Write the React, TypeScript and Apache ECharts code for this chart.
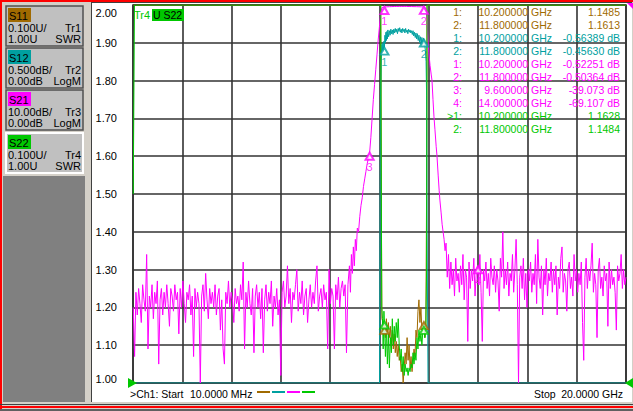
import React, { useEffect, useRef } from 'react';
import * as echarts from 'echarts';

// ---- sweep ----
const START_GHZ = 0.01;
const STOP_GHZ = 20;
const X_DIV_GHZ = 2;

// ---- trace settings (Tr1..Tr4) ----
const traceNames = ['S11', 'S12', 'S21', 'S22'];
const traceTr = ['Tr1', 'Tr2', 'Tr3', 'Tr4'];
const traceColors = ['#a06a00', '#00a0a0', '#ff00ff', '#00c800'];
const tracePerDiv = [0.1, 0.5, 10, 0.1];
const traceRef = [1.0, 0, 0, 1.0];
const traceRefPos = [0, 10, 10, 0]; // division of the reference line (0 = bottom)
const traceUnits = ['U', 'dB', 'dB', 'U'];
const traceFormats = ['SWR', 'LogM', 'LogM', 'SWR'];
const traceMarkerLabels = [false, true, true, false];
const Y_DIVS = 10;

// ---- S21 (dB) ----
const s21LeftStart = 0.01;
const s21LeftStop = 8.66;
const s21LeftNoise = [
  -80, -93, -76, -82, -75, -79, -84, -74, -78, -81,
  -66, -91, -77, -80, -74, -83, -76, -79, -73, -95,
  -78, -75, -82, -76, -80, -74, -79, -85, -75, -77,
  -81, -74, -78, -76, -87, -75, -80, -73, -79, -84,
  -76, -78, -74, -82, -77, -93, -75, -80, -76, -79,
  -100, -77, -74, -81, -71, -78, -83, -75, -79, -76,
  -80, -74, -82, -77, -75, -86, -78, -91, -95, -76,
  -79, -73, -80, -76, -78, -84, -75, -79, -77, -81,
  -74, -78, -68, -91, -76, -80, -73, -79, -82, -75,
  -92, -77, -74, -80, -76, -83, -75, -92, -78, -74,
  -81, -76, -79, -73, -85, -77, -80, -75, -82, -78,
  -98, -76, -73, -80, -77, -69, -79, -75, -84, -76,
  -78, -74, -70, -81, -76, -79, -73, -82, -77, -75,
  -84, -78, -74, -80, -76, -79, -73, -69, -81, -77,
  -75, -80, -74, -78, -76, -91, -70, -79, -75, -77,
  -91, -74, -78, -72, -80, -75, -73, -77, -74, -92,
];
const s21Band: [number, number][] = [
  [8.72, -74], [8.78, -69], [8.82, -76], [8.86, -66], [8.9, -71], [8.94, -64],
  [8.98, -69], [9.02, -62], [9.06, -65], [9.1, -59], [9.15, -60], [9.2, -56],
  [9.25, -53], [9.3, -51], [9.35, -48], [9.4, -46], [9.45, -44], [9.5, -42],
  [9.55, -40.5], [9.6, -39.07], [9.65, -35], [9.7, -30], [9.75, -25], [9.8, -21],
  [9.85, -17], [9.9, -13], [9.95, -9], [10.0, -5.5], [10.05, -2], [10.1, -0.7],
  [10.15, -0.55], [10.2, -0.52], [10.3, -0.48], [10.4, -0.45], [10.5, -0.42],
  [10.6, -0.4], [10.7, -0.38], [10.8, -0.37], [10.9, -0.38], [11.0, -0.36],
  [11.1, -0.38], [11.2, -0.4], [11.3, -0.41], [11.4, -0.43], [11.5, -0.44],
  [11.6, -0.46], [11.7, -0.48], [11.8, -0.5], [11.85, -0.6], [11.9, -1.2],
  [11.93, -4], [11.97, -9.8], [12.0, -12.5], [12.05, -16], [12.1, -18.5],
  [12.13, -20], [12.17, -25], [12.21, -29.6], [12.25, -33], [12.3, -37.5],
  [12.33, -39.7], [12.38, -45], [12.42, -49], [12.45, -51.6], [12.5, -55],
  [12.54, -58], [12.58, -60], [12.62, -62], [12.66, -65],
];
const s21RightStart = 12.7;
const s21RightStop = 20;
const s21RightNoise = [
  -63, -72, -66, -75, -68, -74, -70, -77, -67, -73,
  -71, -76, -69, -74, -66, -78, -70, -72, -89, -68,
  -75, -70, -73, -67, -77, -71, -69, -74, -66, -76,
  -89, -70, -73, -68, -75, -71, -77, -67, -72, -74,
  -69, -76, -70, -73, -81, -67, -72, -60, -75, -70,
  -74, -68, -77, -71, -73, -66, -76, -70, -62, -74,
  -100, -72, -69, -75, -67, -78, -71, -80, -70, -73,
  -68, -76, -71, -74, -66, -79, -62, -72, -75, -69,
  -82, -70, -74, -67, -77, -71, -73, -68, -76, -70,
  -74, -69, -82, -72, -75, -67, -64, -76, -71, -73,
  -81, -70, -68, -75, -72, -77, -66, -73, -70, -76,
  -71, -74, -68, -84, -94, -72, -67, -75, -70, -73,
  -69, -63, -76, -71, -74, -88, -70, -67, -75, -72,
  -77, -69, -73, -71, -85, -68, -75, -70, -74, -72,
  -76, -86, -69, -73, -71, -66, -75, -70, -74, -72,
];

// ---- S12 (dB) ----
const s12Data: [number, number][] = [
  [0.01, -62], [9.9, -45], [10.0, -12], [10.04, -1.2], [10.06, -0.9], [10.08, -0.62],
  [10.1, -0.52], [10.12, -0.6], [10.14, -0.5], [10.16, -0.62], [10.18, -0.48], [10.2, -0.56],
  [10.22, -0.4], [10.24, -0.5], [10.26, -0.36], [10.28, -0.47], [10.3, -0.35], [10.32, -0.45],
  [10.34, -0.33], [10.37, -0.42], [10.4, -0.34], [10.43, -0.4], [10.46, -0.32], [10.49, -0.38],
  [10.52, -0.33], [10.55, -0.39], [10.58, -0.32], [10.61, -0.37], [10.64, -0.31], [10.67, -0.36],
  [10.7, -0.32], [10.73, -0.38], [10.76, -0.31], [10.79, -0.35], [10.82, -0.3], [10.85, -0.36],
  [10.88, -0.32], [10.91, -0.37], [10.94, -0.31], [10.97, -0.35], [11.0, -0.32], [11.03, -0.37],
  [11.06, -0.31], [11.09, -0.36], [11.12, -0.33], [11.15, -0.38], [11.18, -0.32], [11.21, -0.36],
  [11.24, -0.33], [11.27, -0.37], [11.3, -0.34], [11.33, -0.39], [11.36, -0.34], [11.39, -0.41],
  [11.42, -0.36], [11.45, -0.43], [11.48, -0.37], [11.51, -0.45], [11.54, -0.38], [11.57, -0.47],
  [11.6, -0.4], [11.63, -0.5], [11.66, -0.42], [11.69, -0.52], [11.72, -0.43], [11.75, -0.53],
  [11.78, -0.44], [11.8, -0.456], [11.83, -0.5], [11.86, -0.6], [11.89, -0.75], [11.91, -1.2],
  [11.93, -3], [11.97, -25], [20, -62],
];

// ---- S11 (SWR) ----
const s11Data: [number, number][] = [
  [0.01, 30], [10.05, 30], [10.08, 1.4], [10.1, 1.17], [10.14, 1.16], [10.18, 1.13],
  [10.2, 1.15], [10.24, 1.12], [10.28, 1.17], [10.32, 1.13], [10.36, 1.16], [10.4, 1.12],
  [10.44, 1.15], [10.48, 1.1], [10.52, 1.14], [10.56, 1.09], [10.6, 1.13], [10.64, 1.08],
  [10.68, 1.11], [10.72, 1.07], [10.76, 1.1], [10.8, 1.06], [10.84, 1.07], [10.88, 1.03],
  [10.92, 1.05], [10.96, 1.0], [11.0, 1.04], [11.04, 1.08], [11.08, 1.05], [11.12, 1.12],
  [11.16, 1.06], [11.2, 1.1], [11.24, 1.04], [11.28, 1.07], [11.32, 1.03], [11.36, 1.06],
  [11.4, 1.09], [11.44, 1.07], [11.48, 1.14], [11.52, 1.12], [11.56, 1.19], [11.6, 1.22],
  [11.64, 1.16], [11.68, 1.2], [11.72, 1.14], [11.76, 1.15], [11.8, 1.16], [11.84, 1.12],
  [11.88, 1.14], [11.91, 1.5], [11.93, 30], [20, 30],
];

// ---- S22 (SWR) ----
const s22Data: [number, number][] = [
  [0.01, 1.5], [0.06, 30], [10.05, 30], [10.07, 1.6], [10.09, 1.2], [10.12, 1.17],
  [10.15, 1.09], [10.18, 1.19], [10.2, 1.16], [10.24, 1.07], [10.28, 1.15], [10.32, 1.05],
  [10.36, 1.13], [10.4, 1.04], [10.44, 1.12], [10.48, 1.08], [10.52, 1.17], [10.56, 1.1],
  [10.6, 1.15], [10.64, 1.11], [10.68, 1.16], [10.72, 1.12], [10.76, 1.17], [10.8, 1.1],
  [10.84, 1.06], [10.88, 1.09], [10.92, 1.03], [10.96, 1.07], [11.0, 1.02], [11.04, 1.05],
  [11.08, 1.03], [11.12, 1.04], [11.16, 1.02], [11.2, 1.04], [11.24, 1.03], [11.28, 1.05],
  [11.32, 1.04], [11.36, 1.08], [11.4, 1.05], [11.44, 1.08], [11.48, 1.06], [11.52, 1.12],
  [11.56, 1.09], [11.6, 1.14], [11.64, 1.11], [11.68, 1.13], [11.72, 1.1], [11.76, 1.14],
  [11.8, 1.15], [11.84, 1.12], [11.88, 1.15], [11.91, 1.3], [11.93, 30], [20, 30],
];

// ---- markers [GHz, value] ----
const s11Markers: [number, number][] = [[10.2, 1.1485], [11.8, 1.1613]];
const s12Markers: [number, number][] = [[10.2, -0.56389], [11.8, -0.4563]];
const s21Markers: [number, number][] = [[10.2, -0.52251], [11.8, -0.50364], [9.6, -39.073], [14.0, -69.107]];
const s22Markers: [number, number][] = [[10.2, 1.1628], [11.8, 1.1484]];
const activeTrace = 3;
const activeMarker = 0;

const FAMILY = '"Liberation Sans", Arial, sans-serif';
const FONT = `11px ${FAMILY}`;
const FONT_S = `10.5px ${FAMILY}`;

function sweep(start: number, stop: number, values: number[]): [number, number][] {
  const n = values.length;
  return values.map((v, i) => [start + ((stop - start) * i) / (n - 1), v]);
}

function axisRange(k: number) {
  const min = traceRef[k] - traceRefPos[k] * tracePerDiv[k];
  return { min, max: min + Y_DIVS * tracePerDiv[k] };
}

function fmtNum(v: number, dec: number) {
  return v.toFixed(dec);
}

export default function App() {
  const ref = useRef<HTMLDivElement>(null);

  useEffect(() => {
    const chart = echarts.init(ref.current!, null, { renderer: 'svg' });

    const s21Data: [number, number][] = [
      ...sweep(s21LeftStart, s21LeftStop, s21LeftNoise),
      ...s21Band,
      ...sweep(s21RightStart, s21RightStop, s21RightNoise),
    ];
    const traceData = [s11Data, s12Data, s21Data, s22Data];
    const traceMarkers = [s11Markers, s12Markers, s21Markers, s22Markers];

    const ranges = traceNames.map((_, k) => axisRange(k));
    const clampTo = (k: number, v: number) => Math.min(ranges[k].max, Math.max(ranges[k].min, v));

    const gridL = 133, gridT = 5, gridW = 493, gridH = 378;

    const yAxes = traceNames.map((_, k) => {
      const shown = k === activeTrace;
      return {
        type: 'value',
        gridIndex: 0,
        min: ranges[k].min,
        max: ranges[k].max,
        interval: tracePerDiv[k],
        show: shown,
        position: 'left',
        axisLine: { show: false },
        axisTick: { show: false },
        splitLine: { show: shown, lineStyle: { color: '#333333', width: 1.6 } },
        axisLabel: {
          show: shown,
          margin: 16,
          color: '#000',
          fontSize: 11,
          fontFamily: FAMILY,
          formatter: (v: number) => {
            const s = fmtNum(v, 2);
            if (Math.abs(v - ranges[k].max) < 1e-9) return `{t|${s}}`;
            if (Math.abs(v - ranges[k].min) < 1e-9) return `{b|${s}}`;
            return s;
          },
          rich: {
            t: { padding: [16, 0, 0, 0], fontSize: 11, color: '#000', fontFamily: FAMILY },
            b: { padding: [0, 0, 8, 0], fontSize: 11, color: '#000', fontFamily: FAMILY },
          },
        },
      };
    });

    const lineSeries = traceNames.map((name, k) => ({
      type: 'line',
      name,
      yAxisIndex: k,
      data: traceData[k].map(([f, v]) => [f, clampTo(k, v)]),
      showSymbol: false,
      symbol: 'none',
      clip: true,
      silent: true,
      z: 2 + k,
      lineStyle: { color: traceColors[k], width: 1 },
    }));

    const markerSeries = traceNames.map((name, k) => ({
      type: 'scatter',
      name: name + ' markers',
      yAxisIndex: k,
      data: traceMarkers[k].map(([f, v], i) => ({
        value: [f, clampTo(k, v)],
        label: { formatter: String(i + 1) },
      })),
      symbol: 'emptyTriangle',
      symbolSize: [8, 7],
      symbolOffset: [0, 3.5],
      silent: true,
      z: 10,
      itemStyle: { color: traceColors[k], borderWidth: 1 },
      label: {
        show: traceMarkerLabels[k],
        position: 'bottom',
        distance: 1,
        color: traceColors[k],
        fontSize: 11,
        fontFamily: FAMILY,
      },
    }));

    const txt = (text: string, x: number, y: number, fill: string, align = 'left', font = FONT) => ({
      type: 'text',
      z: 100,
      silent: true,
      style: {
        text, x, y, fill, font,
        textAlign: align, align,
        textVerticalAlign: 'middle', verticalAlign: 'middle',
      },
    });
    const rect = (x: number, y: number, w: number, h: number, fill: string, z = -100, stroke?: string, lw = 1) => ({
      type: 'rect',
      z,
      silent: true,
      shape: { x, y, width: w, height: h },
      style: stroke ? { fill, stroke, lineWidth: lw } : { fill },
    });

    const g: any[] = [];
    // frame
    g.push(rect(0, 0, 633, 411, '#d4d0c8', -110));
    g.push(rect(0, 0, 633, 2, '#ff0000', -100));
    g.push(rect(0, 0, 2, 411, '#ff0000', -100));
    g.push(rect(0, 404, 633, 1, '#404040', -100));
    g.push(rect(0, 406, 633, 2, '#ff0000', -100));
    g.push(rect(0, 409, 633, 2, '#606060', -100));
    g.push(rect(3, 176, 82, 226, '#808080', -100));
    g.push(rect(91, 2, 541, 400, '#ffffff', -100));
    g.push(rect(91, 2, 1, 400, '#404040', -99));
    g.push(rect(91, 2, 541, 1, '#404040', -99));

    // trace buttons
    traceNames.forEach((name, k) => {
      const oy = k === 3 ? 127 : k * 42;
      const selected = k === activeTrace;
      g.push(rect(6, 6 + oy, 77, 40, '#c0c0c0', -90, selected ? '#ffffff' : '#505050', selected ? 2 : 1.5));
      g.push(rect(8, 8 + oy, 23, 14, traceColors[k], -80));
      g.push(txt(name, 9, 15.5 + oy, '#000'));
      const scale = traceUnits[k] === 'dB' ? fmtNum(tracePerDiv[k], tracePerDiv[k] < 1 ? 3 : 2) : fmtNum(tracePerDiv[k], 3);
      g.push(txt(`${scale}${traceUnits[k]}/`, 8, 27.5 + oy, '#000'));
      g.push(txt(traceTr[k], 81, 27.5 + oy, '#000', 'right'));
      g.push(txt(`${fmtNum(traceRef[k], 2)}${traceUnits[k]}`, 8, 39 + oy, '#000'));
      g.push(txt(traceFormats[k], 81, 39 + oy, '#000', 'right'));
    });

    // active trace title
    g.push(txt(traceTr[activeTrace], 134, 15, traceColors[activeTrace]));
    g.push(rect(152, 9, 32, 12, traceColors[activeTrace], 90));
    g.push(txt(`U ${traceNames[activeTrace]}`, 153, 15, '#000', 'left', FONT_S));

    // marker table
    let row = 0;
    traceMarkers.forEach((ms, k) => {
      ms.forEach(([f, v], i) => {
        const y = 12.3 + row * 13;
        const c = traceColors[k];
        if (k === activeTrace && i === activeMarker) g.push(txt('>', 447, y, c, 'left', FONT_S));
        g.push(txt(`${i + 1}:`, 462, y, c, 'right', FONT_S));
        g.push(txt(`${fmtNum(f, 6)} GHz`, 552, y, c, 'right', FONT_S));
        const val = traceUnits[k] === 'dB' ? `${v.toPrecision(5)} dB` : v.toPrecision(5);
        g.push(txt(val, 620, y, c, 'right', FONT_S));
        row++;
      });
    });

    // footer
    g.push(txt('>Ch1: Start', 130, 394, '#000', 'left', FONT_S));
    g.push(txt(`${fmtNum(START_GHZ * 1000, 4)} MHz`, 190, 394, '#000', 'left', FONT_S));
    traceColors.forEach((c, k) => g.push(rect(257 + k * 15, 391, 13, 2, c, 100)));
    g.push(txt('Stop', 534, 394, '#000', 'left', FONT_S));
    g.push(txt(`${fmtNum(STOP_GHZ, 4)} GHz`, 623, 394, '#000', 'right', FONT_S));

    // reference-position arrows
    const refY = gridT + gridH;
    g.push({ type: 'polygon', z: 100, silent: true, shape: { points: [[128, refY - 5], [137, refY], [128, refY + 5]] }, style: { fill: traceColors[activeTrace] } });
    g.push({ type: 'polygon', z: 100, silent: true, shape: { points: [[633, refY - 5], [625, refY], [633, refY + 5]] }, style: { fill: traceColors[activeTrace] } });
    g.push({ type: 'polygon', z: 100, silent: true, shape: { points: [[627, 3], [633, 3], [633, 9]] }, style: { fill: traceColors[2] } });

    chart.setOption({
      animation: false,
      backgroundColor: '#d4d0c8',
      grid: {
        left: gridL, top: gridT, width: gridW, height: gridH,
        show: true, borderColor: '#333333', borderWidth: 1.6, backgroundColor: 'transparent',
      },
      xAxis: {
        type: 'value',
        min: 0,
        max: STOP_GHZ,
        interval: X_DIV_GHZ,
        axisLine: { show: false },
        axisTick: { show: false },
        axisLabel: { show: false },
        splitLine: { show: true, lineStyle: { color: '#333333', width: 1.6 } },
      },
      yAxis: yAxes,
      series: [...lineSeries, ...markerSeries],
      graphic: { elements: g },
    });

    return () => chart.dispose();
  }, []);

  return <div ref={ref} style={{ position: 'fixed', left: 0, top: 0, width: 633, height: 411 }} />;
}
